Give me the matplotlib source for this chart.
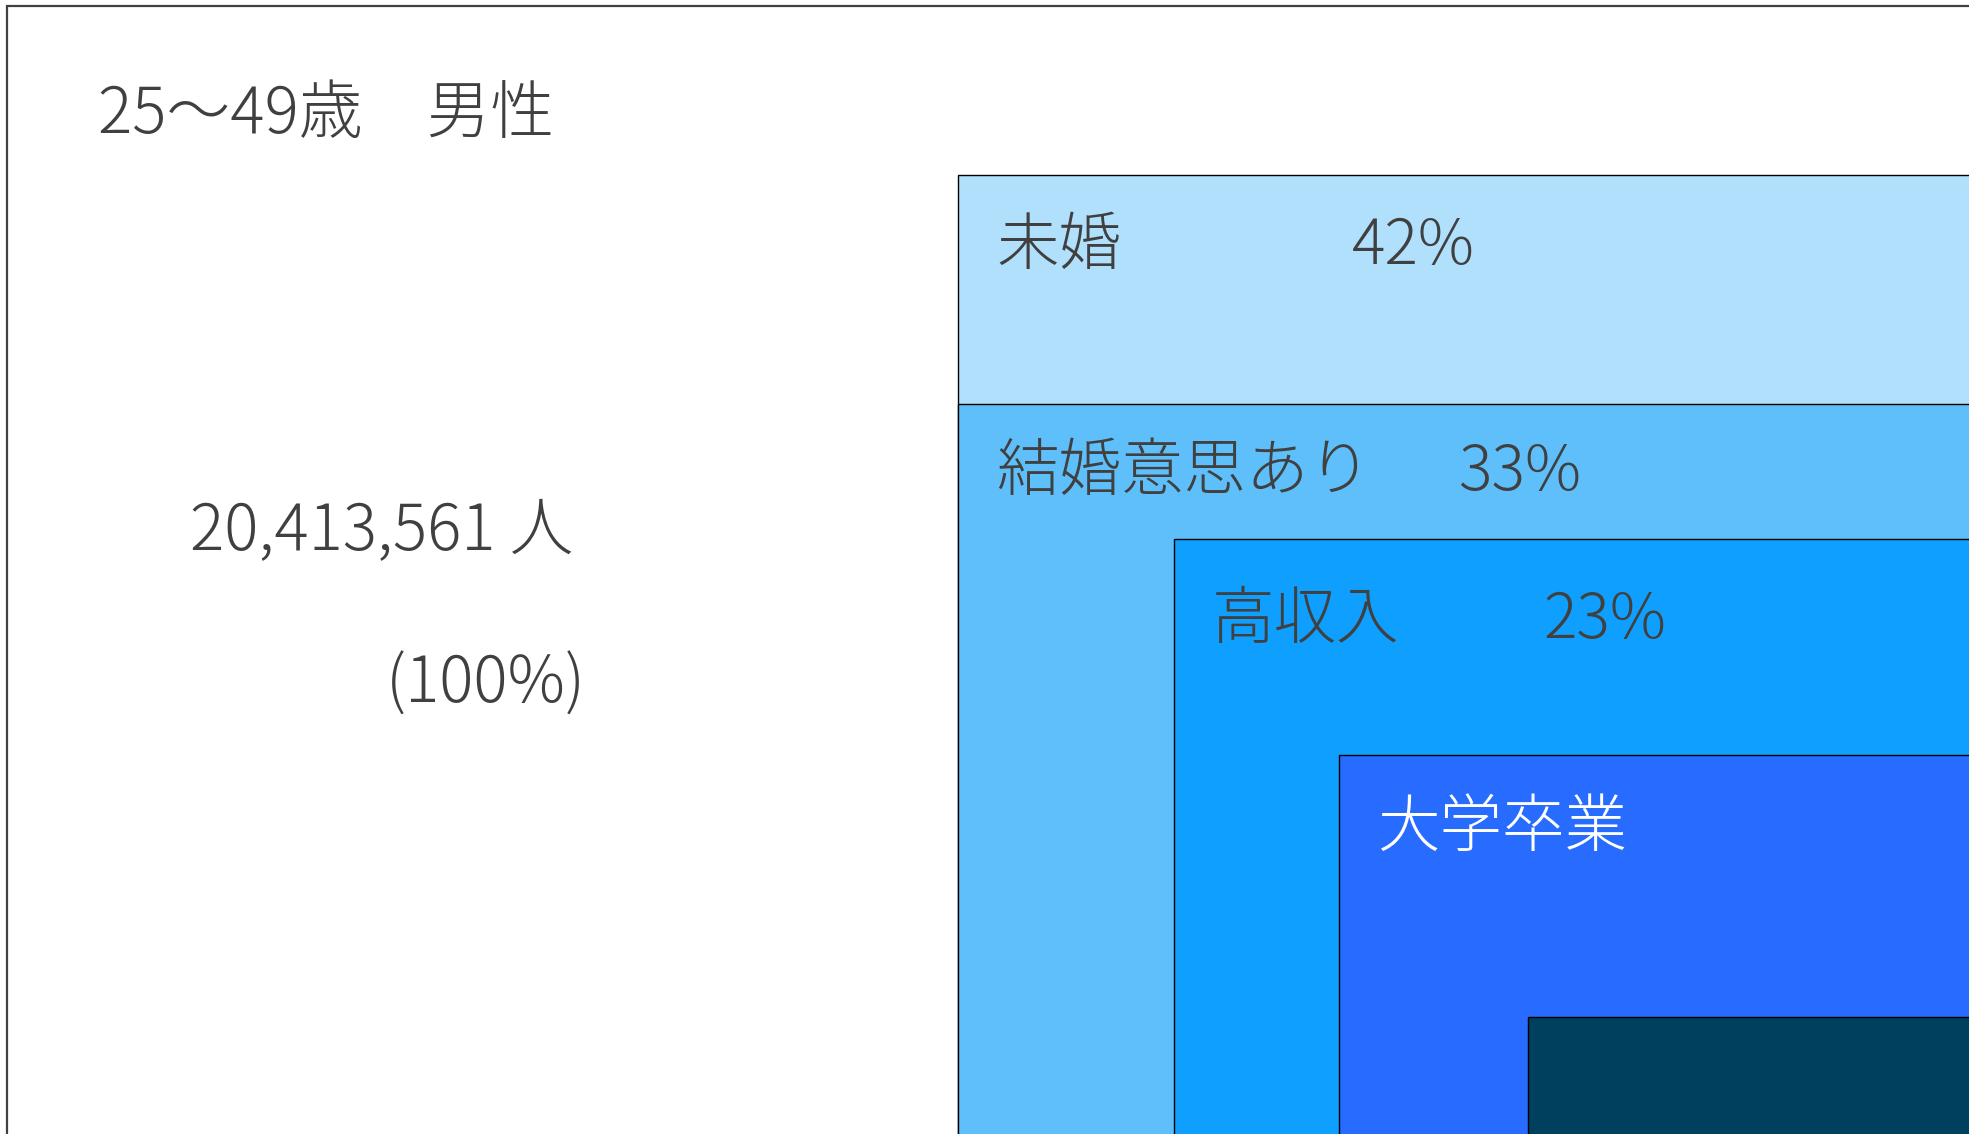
import matplotlib.pyplot as plt
from matplotlib.patches import Rectangle

plt.rcParams['font.family'] = ['Noto Sans CJK JP', 'DejaVu Sans']

# chart content
title = "25〜49歳　男性"
total_people = 20413561
total_share = 100
categories = ["未婚", "結婚意思あり", "高収入", "大学卒業", ""]
shares = [42, 33, 23, None, None]
box_colors = ["#B0E0FC", "#5EBFFB", "#0FA0FF", "#276BFF", "#00405F"]
label_colors = ["#404040", "#404040", "#404040", "white", "white"]

# layout of the nested boxes (pixel coords, top-left corner, boxes run off the page)
box_left = [958, 958, 1174, 1339, 1528]
box_top = [175, 404, 539, 755, 1017]
label_baseline = [264, 490, 638, 846, 0]
share_x = [1352, 1458, 1543, None, None]

W, H = 1969, 1134
fig = plt.figure(figsize=(W / 100, H / 100), dpi=100)
ax = fig.add_axes([0, 0, 1, 1])
ax.set_xlim(0, W)
ax.set_ylim(H, 0)
ax.axis("off")

text_color = "#404040"
fs = 45
fw = "light"

# outer frame (whole population)
ax.add_patch(Rectangle((7, 6), W + 100, H + 100, facecolor="white",
                       edgecolor="#404040", linewidth=1.6))

for i, cat in enumerate(categories):
    ax.add_patch(Rectangle((box_left[i], box_top[i]), W + 100, H + 100,
                           facecolor=box_colors[i], edgecolor="black", linewidth=1.0))
    if cat:
        ax.text(box_left[i] + 38, label_baseline[i], cat, fontsize=fs, fontweight=fw,
                color=label_colors[i], va="baseline", ha="left")
    if shares[i] is not None:
        ax.text(share_x[i], label_baseline[i], f"{shares[i]}%", fontsize=fs, fontweight=fw,
                color=label_colors[i], va="baseline", ha="left")

ax.text(98, 133, title, fontsize=fs + 1, fontweight=fw, color=text_color,
        va="baseline", ha="left")
ax.text(190, 550, f"{total_people:,} 人", fontsize=fs + 1, fontweight=fw, color=text_color,
        va="baseline", ha="left")
ax.text(386, 703, f"({total_share}%)", fontsize=fs + 1, fontweight=fw, color=text_color,
        va="baseline", ha="left")

fig.savefig("out.png", dpi=100)
